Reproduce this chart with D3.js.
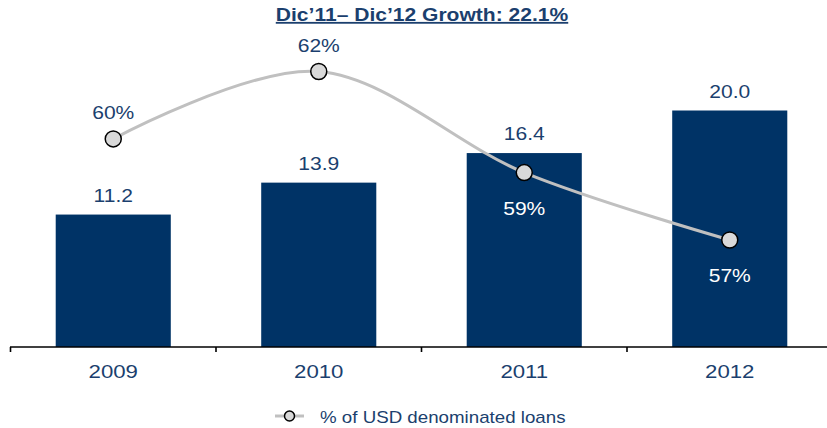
<!DOCTYPE html>
<html>
<head>
<meta charset="utf-8">
<script src="https://cdn.jsdelivr.net/npm/d3@7"></script>
<style>
  html, body { margin: 0; padding: 0; background: #ffffff; }
  svg { display: block; }
  text { font-family: "Liberation Sans", Arial, sans-serif; }
</style>
</head>
<body>
<svg id="chart" width="827" height="428"></svg>
<script>
// Chart data
const title = "Dic’11– Dic’12 Growth: 22.1%";
const years = ["2009", "2010", "2011", "2012"];
const loans = [11.2, 13.9, 16.4, 20.0];          // bars
const usdShare = [60, 62, 59, 57];               // line, percent
const legendLabel = "% of USD denominated loans";

const W = 827, H = 428;
const navy = "#003366";
const textNavy = "#1b3f6e";
const lineGrey = "#c0c0c0";
const markerFill = "#d9d9d9";
const sx = 1.17; // horizontal text stretch

const svg = d3.select("#chart");

const x = d3.scaleBand()
  .domain(years)
  .range([10.5, 10.5 + 4 * 205.5])
  .paddingInner(0.44)
  .paddingOuter(0.22);

const yBar = d3.scaleLinear().domain([0, 20]).range([347, 110.5]);
const yLine = d3.scaleLinear().domain([57, 62]).range([240, 71.5]);

const cx = d => x(d) + x.bandwidth() / 2;

function stretchedText(sel, tx, ty) {
  return sel.attr("transform", (d, i) => `translate(${tx(d, i)},${ty(d, i)}) scale(${sx},1)`)
    .attr("text-anchor", "middle");
}

// Title
svg.append("text")
  .attr("transform", `translate(422,21) scale(${sx},1)`)
  .attr("text-anchor", "middle")
  .attr("font-size", 18)
  .attr("font-weight", "bold")
  .attr("fill", textNavy)
  .attr("text-decoration", "underline")
  .text(title);

// Bars
svg.append("g").selectAll("rect")
  .data(years)
  .join("rect")
  .attr("x", d => x(d))
  .attr("width", x.bandwidth())
  .attr("y", (d, i) => yBar(loans[i]))
  .attr("height", (d, i) => yBar(0) - yBar(loans[i]))
  .attr("fill", navy);

// Bar value labels
stretchedText(
  svg.append("g").selectAll("text").data(years).join("text"),
  d => cx(d), (d, i) => yBar(loans[i]) - 13)
  .attr("font-size", 18)
  .attr("fill", textNavy)
  .text((d, i) => loans[i].toFixed(1));

// X axis: baseline with ticks at category boundaries
const axis = d3.axisBottom(x).tickSize(0).tickFormat("");
const ax = svg.append("g").attr("transform", "translate(0,347)").call(axis);
ax.select(".domain").attr("d", `M10,0H${W}`).attr("stroke", "#000").attr("stroke-width", 1.6);
const bounds = [x.range()[0]].concat(years.slice(1).map(d => x(d) - x.step() * x.paddingInner() / 2));
ax.selectAll("line.bound").data(bounds).join("line")
  .attr("class", "bound")
  .attr("x1", d => d).attr("x2", d => d)
  .attr("y1", 0).attr("y2", 5)
  .attr("stroke", "#000").attr("stroke-width", 1.6);

stretchedText(
  svg.append("g").selectAll("text").data(years).join("text"),
  d => cx(d), () => 378)
  .attr("font-size", 19)
  .attr("fill", textNavy)
  .text(d => d);

// Line
const pts = years.map((d, i) => [cx(d), yLine(usdShare[i])]);
svg.append("path")
  .attr("d", d3.line().curve(d3.curveCatmullRom.alpha(0))(pts))
  .attr("fill", "none")
  .attr("stroke", lineGrey)
  .attr("stroke-width", 3);

svg.append("g").selectAll("circle")
  .data(pts)
  .join("circle")
  .attr("cx", d => d[0])
  .attr("cy", d => d[1])
  .attr("r", 8)
  .attr("fill", markerFill)
  .attr("stroke", "#000")
  .attr("stroke-width", 1.5);

// Line labels: above the marker, or inside the bar in white when the marker sits on it
const inside = i => yLine(usdShare[i]) > yBar(loans[i]);
stretchedText(
  svg.append("g").selectAll("text").data(years).join("text"),
  d => cx(d), (d, i) => yLine(usdShare[i]) + (inside(i) ? 42 : -20))
  .attr("font-size", 18)
  .attr("fill", (d, i) => inside(i) ? "#ffffff" : textNavy)
  .text((d, i) => usdShare[i] + "%");

// Legend
const lg = svg.append("g");
lg.append("line").attr("x1", 275).attr("x2", 304).attr("y1", 416).attr("y2", 416)
  .attr("stroke", lineGrey).attr("stroke-width", 3);
lg.append("circle").attr("cx", 289.5).attr("cy", 416).attr("r", 5)
  .attr("fill", markerFill).attr("stroke", "#000").attr("stroke-width", 1.5);
lg.append("text")
  .attr("transform", `translate(320,422.5) scale(${sx},1)`)
  .attr("font-size", 16)
  .attr("fill", textNavy)
  .text(legendLabel);
</script>
</body>
</html>
